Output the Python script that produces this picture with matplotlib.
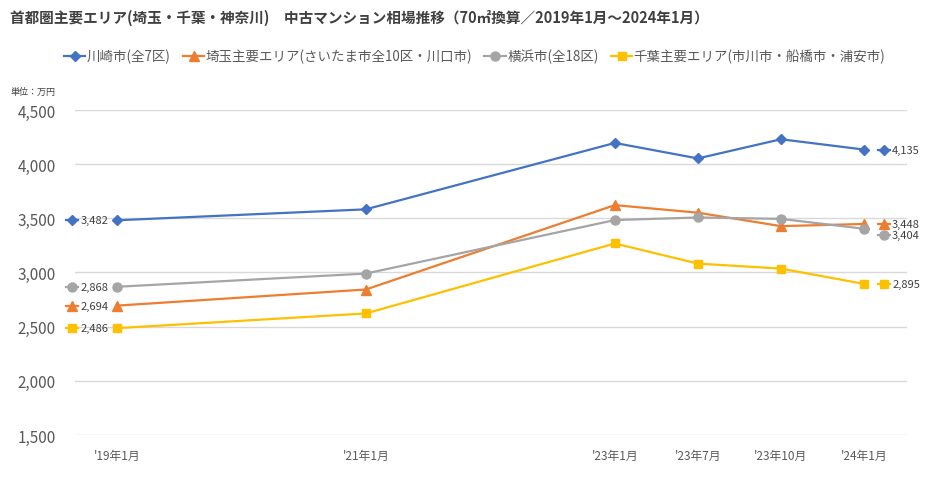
# -*- coding: utf-8 -*-
# 首都圏主要エリア 中古マンション相場推移 (70㎡換算)

import matplotlib
matplotlib.use("Agg")
import matplotlib.pyplot as plt
from matplotlib.transforms import ScaledTranslation

plt.rcParams['font.family'] = ['Noto Sans CJK JP', 'DejaVu Sans']

# 横軸: '19年1月〜'21年1月〜'23年1月 は間隔3、以降は間隔1
periods = ["'19年1月", "'21年1月", "'23年1月", "'23年7月", "'23年10月", "'24年1月"]
period_pos = [0, 3, 6, 7, 8, 9]

series_names = ["川崎市(全7区)", "埼玉主要エリア(さいたま市全10区・川口市)",
                "横浜市(全18区)", "千葉主要エリア(市川市・船橋市・浦安市)"]
kawasaki = [3482, 3583, 4196, 4053, 4230, 4135]
saitama = [2694, 2843, 3622, 3552, 3428, 3448]
yokohama = [2868, 2990, 3484, 3508, 3495, 3404]
chiba = [2486, 2622, 3268, 3082, 3036, 2895]

colors = ["#4472C4", "#ED7D31", "#A5A5A5", "#FFC000"]
markers = ["D", "^", "o", "s"]
msizes = [5, 6.5, 6.5, 6]
# 右端ラベルの重なり回避 (ポイント単位)
right_label_dy = [0, 0, -4.5, 0]

fig = plt.figure(figsize=(9.4, 4.89), dpi=100)
ax = fig.add_axes([0.080, 0.1084, 0.885, 0.6646])

all_series = [kawasaki, saitama, yokohama, chiba]
for vals, name, c, m, ms, dy in zip(all_series, series_names, colors, markers, msizes, right_label_dy):
    ax.plot(period_pos, vals, color=c, lw=1.6, marker=m, ms=ms, label=name, zorder=3)

    # 左端ラベル (凡例マーカー付き)
    x0 = period_pos[0] - 0.54
    ax.plot([x0 - 0.07, x0, x0 + 0.07], [vals[0]] * 3, color=c, lw=1.6,
            marker=m, ms=ms, markevery=[1], clip_on=False, zorder=4)
    ax.annotate(f"{vals[0]:,}", (x0 + 0.1, vals[0]), va='center', ha='left',
                fontsize=8, color="#404040", annotation_clip=False)

    # 右端ラベル
    yv = vals[-1]
    x1 = period_pos[-1] + 0.24
    ax.annotate(f"{yv:,}", (x1 + 0.1, yv), xytext=(0, dy), textcoords='offset points',
                va='center', ha='left', fontsize=8, color="#404040", annotation_clip=False)
    shift = ax.transData + ScaledTranslation(0, dy / 72, fig.dpi_scale_trans)
    ax.plot([x1 - 0.07, x1, x1 + 0.07], [yv] * 3, color=c, lw=1.6, marker=m, ms=ms,
            markevery=[1], clip_on=False, zorder=4, transform=shift)

ax.set_xlim(-0.5, 9.52)
ax.set_ylim(1500, 4500)
ax.set_yticks(range(1500, 4501, 500))
ax.set_yticklabels([f"{v:,}" for v in range(1500, 4501, 500)])
ax.set_xticks(period_pos)
ax.set_xticklabels(periods)
ax.tick_params(axis='y', length=0, labelsize=11, labelcolor="#595959", pad=14)
ax.tick_params(axis='x', length=0, labelsize=8.5, labelcolor="#595959", pad=10)
ax.grid(axis='y', color="#D9D9D9", lw=1)
ax.set_axisbelow(True)
for s in ax.spines.values():
    s.set_visible(False)

fig.text(0.011, 1 - 18 / 489, "首都圏主要エリア(埼玉・千葉・神奈川)　中古マンション相場推移（70㎡換算／2019年1月～2024年1月）",
         fontsize=10.5, fontweight='bold', color="#404040", va='center', ha='left')
fig.text(0.011, 1 - 92 / 489, "単位：万円", fontsize=6.5, color="#404040", va='center', ha='left')

fig.legend(loc='center', bbox_to_anchor=(0.505, 1 - 57 / 489), ncol=4, frameon=False,
           fontsize=9.7, handlelength=1.6, handletextpad=0.1, columnspacing=0.9,
           labelcolor="#595959")

fig.savefig("out.png", dpi=100)
